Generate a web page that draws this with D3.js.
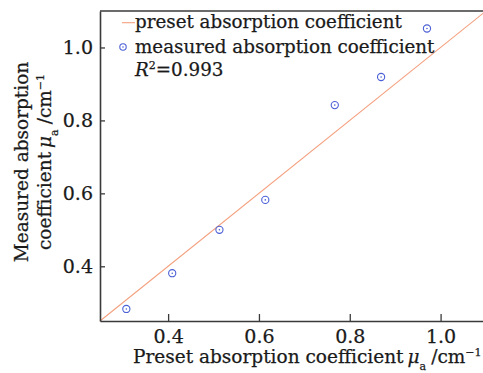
<!DOCTYPE html>
<html>
<head>
<meta charset="utf-8">
<script src="https://cdn.jsdelivr.net/npm/d3@7/dist/d3.min.js"></script>
<style>
  html, body { margin: 0; padding: 0; background: #fff; }
  svg { display: block; }
  text { font-family: "DejaVu Serif", serif; fill: #1a1a1a; stroke: #1a1a1a; stroke-width: 0.25; }
</style>
</head>
<body>
<svg id="chart" width="483" height="373"></svg>
<script>
// Preset (x) and measured (y) absorption coefficients, cm^-1
const presetValues   = [0.308, 0.409, 0.513, 0.614, 0.767, 0.869, 0.970];
const measuredValues = [0.283, 0.381, 0.500, 0.582, 0.842, 0.919, 1.052];
const xTicks = [0.4, 0.6, 0.8, 1.0];
const yTicks = [0.4, 0.6, 0.8, 1.0];
const domain = [0.25, 1.1];
const rSquared = "0.993";

const svg = d3.select("#chart");
const margin = { left: 100, top: 11, right: -3, bottom: 52 };
const W = 483, H = 373;

const x = d3.scaleLinear().domain(domain).range([margin.left, W - margin.right]);
const y = d3.scaleLinear().domain(domain).range([H - margin.bottom, margin.top]);

const axisColor = "#3a3a3a";
const lineColor = "#f4a07f";
const pointColor = "#4b5fd6";

// Reference line y = x
svg.append("line")
  .attr("x1", x(domain[0])).attr("y1", y(domain[0]))
  .attr("x2", x(domain[1])).attr("y2", y(domain[1]))
  .attr("stroke", lineColor).attr("stroke-width", 1.1);

// Measured points: open circle with centre dot
const pts = svg.append("g").selectAll("g")
  .data(presetValues.map((p, i) => [p, measuredValues[i]]))
  .join("g")
  .attr("transform", d => `translate(${x(d[0])},${y(d[1])})`);
pts.append("circle").attr("r", 3.6).attr("fill", "none")
  .attr("stroke", pointColor).attr("stroke-width", 1.1);
pts.append("circle").attr("r", 0.8).attr("fill", pointColor);

// Axes with inward ticks
const xAxis = svg.append("g")
  .attr("transform", `translate(0,${y(domain[0])})`)
  .call(d3.axisBottom(x).tickValues(xTicks).tickFormat(d3.format(".1f"))
        .tickSizeInner(-7).tickSizeOuter(0).tickPadding(9));
const yAxis = svg.append("g")
  .attr("transform", `translate(${x(domain[0])},0)`)
  .call(d3.axisLeft(y).tickValues(yTicks).tickFormat(d3.format(".1f"))
        .tickSizeInner(-5).tickSizeOuter(0).tickPadding(7));

[xAxis, yAxis].forEach(g => {
  g.select(".domain").attr("stroke", axisColor).attr("stroke-width", 1.6);
  g.selectAll(".tick line").attr("stroke", axisColor).attr("stroke-width", 1.3);
  g.selectAll(".tick text").attr("font-size", 19).attr("font-family", "DejaVu Serif, serif")
    .attr("fill", "#1a1a1a");
});

// Top border
svg.append("line")
  .attr("x1", x(domain[0])).attr("x2", W)
  .attr("y1", y(domain[1])).attr("y2", y(domain[1]))
  .attr("stroke", axisColor).attr("stroke-width", 1.6);

// Axis titles
function unitLabel(sel) {
  sel.append("tspan").attr("font-style", "italic").attr("dx", 4).text("μ");
  sel.append("tspan").attr("font-size", 11).attr("dy", 7).text("a");
  sel.append("tspan").attr("dy", -7).attr("dx", 5).text("/cm");
  sel.append("tspan").attr("font-size", 11).attr("dy", -7).text("−1");
}

const xt = svg.append("text")
  .attr("x", 133).attr("y", 363).attr("font-size", 18.5)
  .text("Preset absorption coefficient");
unitLabel(xt);

const yt = svg.append("g").attr("transform", "translate(0,162) rotate(-90)");
yt.append("text").attr("x", 0).attr("y", 28).attr("text-anchor", "middle")
  .attr("font-size", 18.5).text("Measured absorption");
const yt2 = yt.append("text").attr("x", 0).attr("y", 51).attr("text-anchor", "middle")
  .attr("font-size", 18.5).text("coefficient");
unitLabel(yt2);

// Legend
const lg = svg.append("g");
lg.append("line").attr("x1", 122).attr("x2", 135).attr("y1", 22.7).attr("y2", 22.7)
  .attr("stroke", lineColor).attr("stroke-width", 1.1);
lg.append("text").attr("x", 135).attr("y", 28).attr("font-size", 18.3)
  .text("preset absorption coefficient");
lg.append("circle").attr("cx", 123).attr("cy", 47).attr("r", 3.2).attr("fill", "none")
  .attr("stroke", pointColor).attr("stroke-width", 1.1);
lg.append("circle").attr("cx", 123).attr("cy", 47).attr("r", 0.8).attr("fill", pointColor);
lg.append("text").attr("x", 135).attr("y", 52.7).attr("font-size", 18.3)
  .text("measured absorption coefficient");
const r2 = lg.append("text").attr("x", 135).attr("y", 76).attr("font-size", 18.3);
r2.append("tspan").attr("font-style", "italic").text("R");
r2.append("tspan").attr("font-size", 11).attr("dy", -7).text("2");
r2.append("tspan").attr("dy", 7).text("=" + rSquared);
</script>
</body>
</html>
